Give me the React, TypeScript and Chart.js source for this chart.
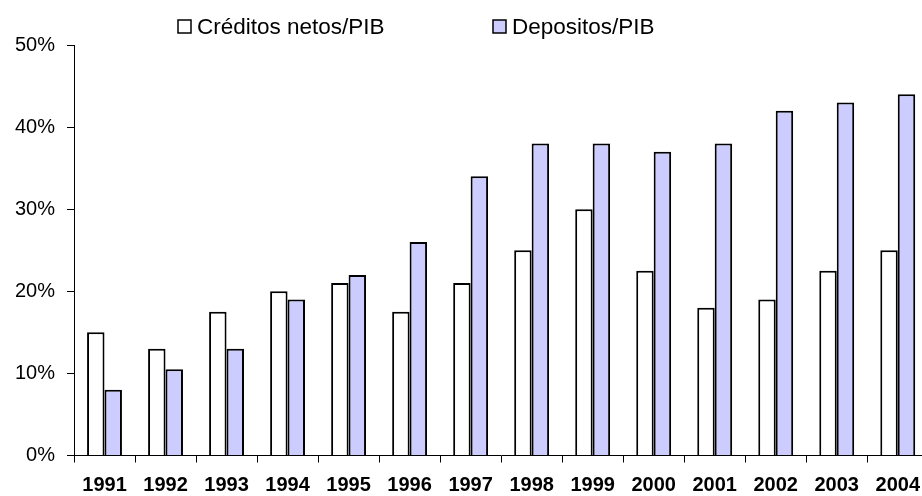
import React, { useEffect, useRef } from "react";
import { Chart, registerables } from "chart.js";

Chart.register(...registerables);

const years = ["1991", "1992", "1993", "1994", "1995", "1996", "1997", "1998", "1999", "2000", "2001", "2002", "2003", "2004"];
const creditos = [15, 13, 17.5, 20, 21, 17.5, 21, 25, 30, 22.5, 18, 19, 22.5, 25];
const depositos = [8, 10.5, 13, 19, 22, 26, 34, 38, 38, 37, 38, 42, 43, 44];
const seriesLabels = ["Créditos netos/PIB", "Depositos/PIB"];
const yTicks = [0, 10, 20, 30, 40, 50];

const FONT = "'Liberation Sans', Arial, Helvetica, sans-serif";

const legendPlugin = {
  id: "customLegend",
  afterDraw(chart: any) {
    const ctx = chart.ctx;
    const positions = [178, 493];
    ctx.save();
    ctx.font = `22.5px ${FONT}`;
    ctx.textBaseline = "middle";
    ctx.textAlign = "left";
    chart.data.datasets.forEach((ds: any, i: number) => {
      const x = positions[i];
      const y = 20;
      ctx.fillStyle = ds.backgroundColor;
      ctx.fillRect(x, y, 13, 13);
      ctx.lineWidth = 1.5;
      ctx.strokeStyle = "#000";
      ctx.strokeRect(x, y, 13, 13);
      ctx.fillStyle = "#000";
      ctx.fillText(ds.label, x + 19, y + 7.5);
    });
    ctx.restore();
  },
};

export default function App() {
  const ref = useRef<HTMLCanvasElement | null>(null);
  useEffect(() => {
    if (!ref.current) return;
    const chart = new Chart(ref.current, {
      type: "bar",
      data: {
        labels: years,
        datasets: [
          {
            label: seriesLabels[0],
            data: creditos,
            backgroundColor: "#FFFFFF",
            borderColor: "#000000",
            borderWidth: 2,
            categoryPercentage: 0.572,
            barPercentage: 1,
          },
          {
            label: seriesLabels[1],
            data: depositos,
            backgroundColor: "#CCCCFF",
            borderColor: "#000000",
            borderWidth: 2,
            categoryPercentage: 0.572,
            barPercentage: 1,
          },
        ],
      },
      options: {
        responsive: false,
        animation: false,
        devicePixelRatio: 1,
        layout: { padding: { top: 45, left: 0, right: 0, bottom: 0 } },
        plugins: {
          legend: { display: false },
          tooltip: { enabled: false },
        },
        scales: {
          x: {
            grid: {
              display: true,
              offset: true,
              drawOnChartArea: false,
              drawTicks: true,
              tickLength: 7,
              color: "#000",
            },
            border: { display: true, color: "#000", width: 1 },
            ticks: {
              color: "#000",
              font: { family: FONT, size: 20, weight: "bold" },
              padding: 11,
              maxRotation: 0,
              autoSkip: false,
            },
            afterFit: (scale: any) => {
              scale.height = 40.5;
            },
          },
          y: {
            min: 0,
            max: 50,
            afterBuildTicks: (scale: any) => {
              scale.ticks = yTicks.map((v) => ({ value: v }));
            },
            grid: {
              display: true,
              drawOnChartArea: false,
              drawTicks: true,
              tickLength: 7,
              color: "#000",
            },
            border: { display: true, color: "#000", width: 1 },
            ticks: {
              color: "#000",
              font: { family: FONT, size: 20 },
              padding: 12,
              callback: (v: any) => `${v}%`,
            },
            afterFit: (scale: any) => {
              scale.width = 74;
            },
          },
        },
      },
      plugins: [legendPlugin],
    });
    return () => chart.destroy();
  }, []);

  return (
    <div style={{ position: "absolute", left: 0, top: 0, width: 922, height: 496, overflow: "hidden", background: "#fff" }}>
      <canvas ref={ref} width={931} height={496} style={{ width: 931, height: 496, display: "block" }} />
    </div>
  );
}
